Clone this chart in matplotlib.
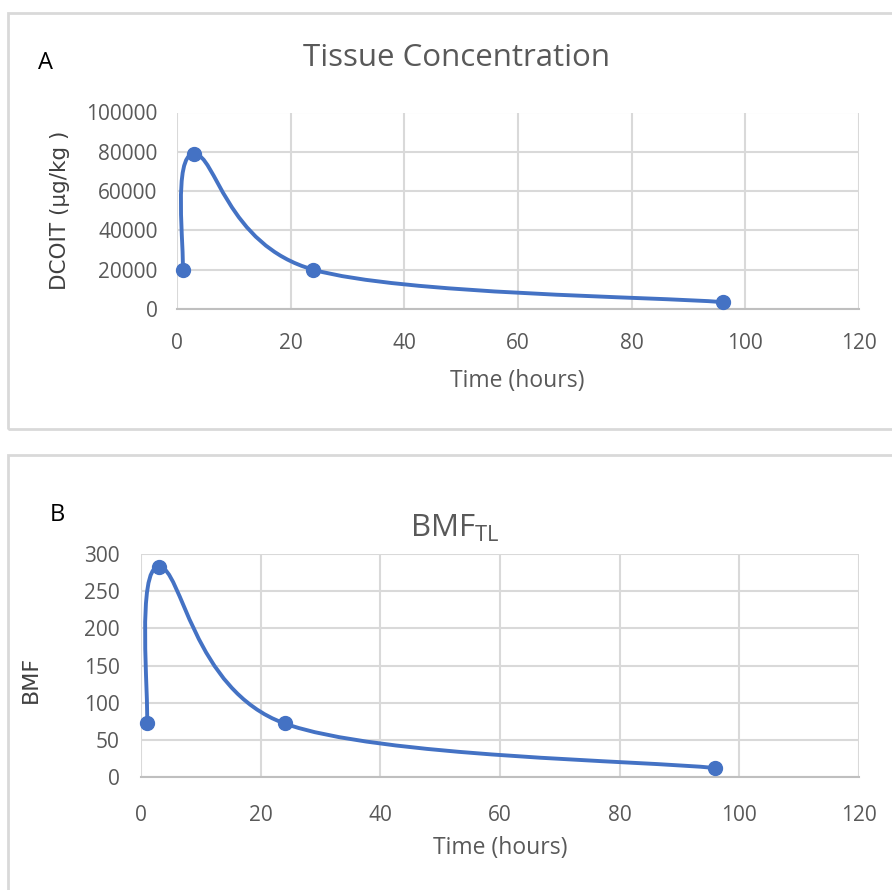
import matplotlib
matplotlib.use("Agg")
import matplotlib.pyplot as plt
from matplotlib.patches import Rectangle
from matplotlib.path import Path
from matplotlib.patches import PathPatch
import numpy as np

# sampling times (hours)
czas = [1, 3, 24, 96]
# DCOIT tissue concentration (ug/kg)
stezenie = [20000, 79000, 20000, 3500]
# biomagnification factor
bmf = [72, 283, 72, 12]

x_ticks = [0, 20, 40, 60, 80, 100, 120]
yA_ticks = [0, 20000, 40000, 60000, 80000, 100000]
yB_ticks = [0, 50, 100, 150, 200, 250, 300]

W, H = 892, 890
KOLOR = "#4472C4"
SZARY = "#595959"
SIATKA = "#d9d9d9"

plt.rcParams["font.family"] = ["Open Sans", "DejaVu Sans"]
fig = plt.figure(figsize=(W / 100, H / 100), dpi=100)


def px_axes(l, t, r, b):
    return fig.add_axes([l / W, 1 - b / H, (r - l) / W, (b - t) / H])


def gladka(ax, xs, ys):
    # smoothed line through the points, bezier segments built in pixel space
    bb = ax.get_window_extent()
    x0, x1 = ax.get_xlim()
    y0, y1 = ax.get_ylim()
    sx = bb.width / (x1 - x0)
    sy = bb.height / (y1 - y0)
    p = np.column_stack([np.array(xs) * sx, np.array(ys) * sy])
    n = len(p)
    verts = [p[0]]
    codes = [Path.MOVETO]
    for i in range(n - 1):
        a = p[i - 1] if i > 0 else p[i]
        d = p[i + 2] if i + 2 < n else p[i + 1]
        c1 = p[i] + (p[i + 1] - a) / 6
        c2 = p[i + 1] - (d - p[i]) / 6
        verts += [c1, c2, p[i + 1]]
        codes += [Path.CURVE4] * 3
    v = np.array(verts)
    v[:, 0] /= sx
    v[:, 1] /= sy
    ax.add_patch(PathPatch(Path(v, codes), fill=False, edgecolor=KOLOR,
                           lw=2.8, capstyle="round", zorder=3))
    ax.plot(xs, ys, "o", color=KOLOR, ms=10, zorder=4, clip_on=False)


def panel(ax, ys, yticks, xpad, ypad):
    ax.set_xlim(0, 120)
    ax.set_ylim(yticks[0], yticks[-1])
    ax.set_xticks(x_ticks)
    ax.set_yticks(yticks)
    ax.grid(True, color=SIATKA, lw=1.5)
    ax.set_axisbelow(True)
    for s in ["top", "right", "left"]:
        ax.spines[s].set_visible(False)
    ax.spines["bottom"].set_color("#bfbfbf")
    ax.spines["bottom"].set_linewidth(1.5)
    ax.tick_params(length=0, labelsize=15, labelcolor=SZARY)
    ax.tick_params(axis="x", pad=xpad)
    ax.tick_params(axis="y", pad=ypad)
    gladka(ax, czas, ys)


# frames around both charts
fig.patches.append(Rectangle((8 / W, 1 - 429 / H), 900 / W, 416 / H, transform=fig.transFigure,
                             fill=False, edgecolor=SIATKA, lw=2))
fig.patches.append(Rectangle((8 / W, 1 - 900 / H), 900 / W, 445 / H, transform=fig.transFigure,
                             fill=False, edgecolor=SIATKA, lw=2))

axA = px_axes(177, 112.5, 859, 309)
panel(axA, stezenie, yA_ticks, 17, 14)
axB = px_axes(141, 554, 859, 777)
panel(axB, bmf, yB_ticks, 20, 15.5)

fig.text(45 / W, 1 - 63 / H, "A", fontsize=17, ha="center", va="center", color="black")
fig.text(456 / W, 1 - 58 / H, "Tissue Concentration", fontsize=22.5, ha="center", va="center", color=SZARY)
fig.text(60 / W, 1 - 210 / H, "DCOIT (µg/kg )", fontsize=15.5, rotation=90, ha="center", va="center",
         color="#404040", family="DejaVu Sans")
fig.text(517 / W, 1 - 381 / H, "Time (hours)", fontsize=16.5, ha="center", va="center", color=SZARY)

fig.text(57 / W, 1 - 515 / H, "B", fontsize=17, ha="center", va="center", color="black")
fig.text(455 / W, 1 - 528 / H, r"BMF$_{\mathregular{TL}}$", fontsize=22.5, ha="center", va="center", color=SZARY)
fig.text(31 / W, 1 - 679 / H, "BMF", fontsize=16, rotation=90, ha="center", va="center",
         color="#404040", family="DejaVu Sans")
fig.text(500 / W, 1 - 848 / H, "Time (hours)", fontsize=16.5, ha="center", va="center", color=SZARY)

fig.savefig("out.png", dpi=100, facecolor="white")
